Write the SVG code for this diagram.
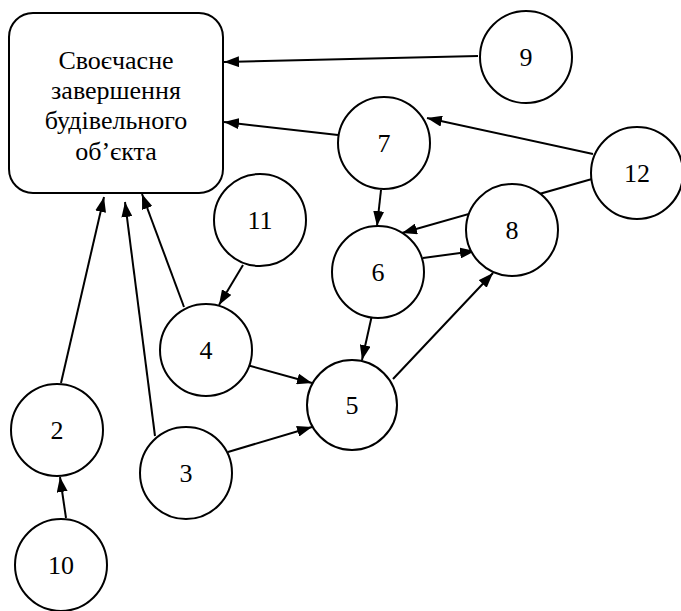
<svg xmlns="http://www.w3.org/2000/svg" width="681" height="611" viewBox="0 0 681 611">
<style>
.n circle{fill:#fff;stroke:#000;stroke-width:2}
.n rect{fill:#fff;stroke:#000;stroke-width:2}
.t{fill:#000;text-anchor:middle;font-family:'Liberation Serif','Times New Roman',serif;font-size:26px}
#edges line{stroke:#000;stroke-width:2;marker-end:url(#arr)}
</style>
<defs>
<marker id="arr" markerWidth="15" markerHeight="11" refX="15" refY="5.5" orient="auto" markerUnits="userSpaceOnUse">
<path d="M0,0 L15,5.5 L0,11 z" fill="#000"/>
</marker>
</defs>
<rect width="681" height="611" fill="#fff"/>
<g id="edges">
<line x1="478" y1="56" x2="224" y2="62"/>
<line x1="338" y1="135" x2="224" y2="122"/>
<line x1="593" y1="154" x2="427" y2="118"/>
<line x1="592" y1="179" x2="402" y2="233"/>
<line x1="381" y1="190" x2="377" y2="226"/>
<line x1="423" y1="258" x2="475" y2="251"/>
<line x1="372" y1="315" x2="362" y2="360"/>
<line x1="393" y1="379" x2="493" y2="273"/>
<line x1="243" y1="265" x2="219" y2="305"/>
<line x1="184" y1="307" x2="142" y2="194"/>
<line x1="247" y1="365" x2="312" y2="383"/>
<line x1="228" y1="452" x2="312" y2="427"/>
<line x1="155" y1="436" x2="125" y2="202"/>
<line x1="61" y1="383" x2="104" y2="197"/>
<line x1="66" y1="518" x2="60" y2="477"/>
</g>
<g id="goal" class="n">
<rect x="9" y="13" width="214" height="180" rx="24"/>
<text class="t" x="116" y="69">Своєчасне</text>
<text class="t" x="116" y="99">завершення</text>
<text class="t" x="116" y="129">будівельного</text>
<text class="t" x="116" y="160">об’єкта</text>
</g>
<g id="n9" class="n"><circle cx="526" cy="57" r="46"/><text class="t" x="526" y="66">9</text></g>
<g id="n7" class="n"><circle cx="384" cy="143" r="46"/><text class="t" x="384" y="152">7</text></g>
<g id="n12" class="n"><circle cx="637" cy="173" r="46"/><text class="t" x="637" y="182">12</text></g>
<g id="n8" class="n"><circle cx="512" cy="230" r="46"/><text class="t" x="512" y="239">8</text></g>
<g id="n6" class="n"><circle cx="378" cy="272" r="46"/><text class="t" x="378" y="281">6</text></g>
<g id="n11" class="n"><circle cx="260" cy="220" r="46"/><text class="t" x="260" y="229">11</text></g>
<g id="n4" class="n"><circle cx="206" cy="350" r="46"/><text class="t" x="206" y="359">4</text></g>
<g id="n5" class="n"><circle cx="352" cy="405" r="45"/><text class="t" x="352" y="414">5</text></g>
<g id="n2" class="n"><circle cx="57" cy="430" r="46"/><text class="t" x="57" y="439">2</text></g>
<g id="n3" class="n"><circle cx="186" cy="473" r="46"/><text class="t" x="186" y="482">3</text></g>
<g id="n10" class="n"><circle cx="61" cy="565" r="46"/><text class="t" x="61" y="574">10</text></g>
</svg>
